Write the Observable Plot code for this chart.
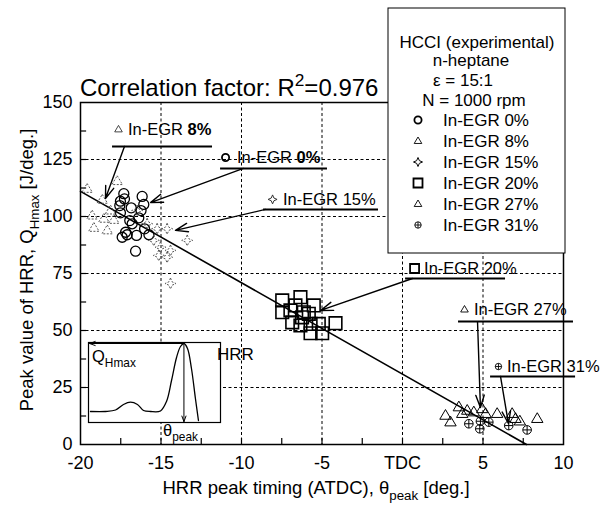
<!DOCTYPE html>
<html>
<head>
<meta charset="utf-8">
<script src="https://cdn.jsdelivr.net/npm/d3@7"></script>
<script src="https://cdn.jsdelivr.net/npm/@observablehq/plot@0.6"></script>
<style>
  body { margin: 0; background: #fff; }
  #chart { width: 600px; height: 507px; }
</style>
</head>
<body>
<div id="chart"></div>
<script>
// ---- measured HRR peaks, one pair of arrays per In-EGR rate ----
const seriesNames = ["In-EGR 0%", "In-EGR 8%", "In-EGR 15%", "In-EGR 20%", "In-EGR 27%", "In-EGR 31%"];

const egr0X  = [-17.31, -17.27, -17.52, -17.56, -16.85, -17.52, -16.17, -16.07, -16.24, -16.38, -16.94, -17.20, -17.41, -17.10, -16.52, -16.02, -15.75, -16.58, -16.79];
const egr0Y  = [110.0, 107.7, 106.7, 104.8, 103.8, 101.6, 108.8, 105.3, 102.6, 99.4, 98.2, 93.1, 90.9, 92.0, 91.7, 94.6, 92.0, 84.8, 96.8];

const egr8X  = [-19.59, -17.72, -18.65, -19.28, -18.55, -19.17, -18.34, -17.93, -18.14];
const egr8Y  = [112.1, 115.5, 107.3, 100.4, 99.0, 95.0, 93.9, 98.5, 102.6];

const egr15X = [-15.86, -15.24, -14.62, -15.45, -15.03, -14.41, -13.37, -15.14, -14.62, -14.41, -16.48];
const egr15Y = [96.8, 94.6, 94.6, 89.5, 86.5, 85.1, 89.5, 82.9, 82.1, 70.6, 102.6];

const egr20X = [-7.47, -6.34, -6.65, -6.96, -7.47, -5.51, -6.13, -5.82, -6.85, -6.34, -5.71, -5.20, -4.16, -5.71, -4.99, -6.24];
const egr20Y = [63.2, 64.6, 61.0, 58.8, 58.0, 61.0, 58.0, 57.3, 53.6, 52.2, 52.9, 52.9, 53.2, 48.8, 48.8, 55.8];

const egr27X = [2.67, 2.98, 3.50, 3.71, 4.02, 4.43, 4.95, 5.16, 5.88, 6.81, 7.02, 7.29, 8.37];
const egr27Y = [12.7, 9.8, 16.4, 13.5, 14.9, 14.2, 15.6, 13.5, 13.5, 13.5, 11.3, 10.2, 11.3];

const egr31X = [4.12, 4.84, 4.80, 5.36, 6.60, 7.74];
const egr31Y = [9.1, 10.2, 6.9, 9.8, 8.3, 6.4];

// linear fit through all points (R^2 = 0.976)
const fitX = [-20, 7.7];
const fitY = [111, 0];

// axis ticks
const xTicks = [-20, -15, -10, -5, 0, 5, 10];
const yTicks = [0, 25, 50, 75, 100, 125, 150];
const xGrid = [-15, -10, -5, 0, 5];
const yGrid = [25, 50, 75, 100, 125];
const xMinor = [-17.5, -15, -12.5, -10, -7.5, -5, -2.5, 0, 2.5, 5, 7.5];
const yMinor = [12.5, 25, 37.5, 50, 62.5, 75, 87.5, 100, 112.5, 125, 137.5];

// schematic HRR trace for the inset (crank angle %, HRR %)
const insetU = [1.5, 12.9, 20.5, 26.5, 31.8, 37.1, 41.7, 47, 54.5, 59.1, 62.9, 66.7, 69.7, 72.3, 75, 78, 81, 83.3];
const insetV = [13.75, 13.75, 15.6, 22.5, 25.4, 22.5, 15, 13.75, 14.4, 26.3, 52.5, 81.3, 95, 98.75, 92.5, 67.5, 30, 2.5];

const FONT = '"Liberation Sans", Arial, Helvetica, sans-serif';

// ---- marker shapes ----
const rOf = s => Math.sqrt(s / Math.PI);
const shapes = {
  circle: { draw(c, s) { const r = rOf(s); c.moveTo(r, 0); c.arc(0, 0, r, 0, 2 * Math.PI); } },
  triangle: { draw(c, s) { const r = rOf(s); c.moveTo(0, -r); c.lineTo(r * 0.95, r * 0.62); c.lineTo(-r * 0.95, r * 0.62); c.closePath(); } },
  star4: { draw(c, s) { const r = rOf(s), k = r * 0.3;
    c.moveTo(0, -r); c.lineTo(k, -k); c.lineTo(r, 0); c.lineTo(k, k);
    c.lineTo(0, r); c.lineTo(-k, k); c.lineTo(-r, 0); c.lineTo(-k, -k); c.closePath(); } },
  square: { draw(c, s) { const r = rOf(s); c.rect(-r, -r, 2 * r, 2 * r); } },
  oplus: { draw(c, s) { const r = rOf(s); c.moveTo(r, 0); c.arc(0, 0, r, 0, 2 * Math.PI);
    c.moveTo(-r, 0); c.lineTo(r, 0); c.moveTo(0, -r); c.lineTo(0, r); } }
};

const series = [
  { name: seriesNames[0], xs: egr0X,  ys: egr0Y,  shape: shapes.circle,   r: 5,   stroke: "#000", width: 1.3, dash: null,  lr: 3.6, lw: 1.8 },
  { name: seriesNames[1], xs: egr8X,  ys: egr8Y,  shape: shapes.triangle, r: 5.5, stroke: "#555", width: 1,   dash: "2,1.5", lr: 4, lw: 0.9 },
  { name: seriesNames[2], xs: egr15X, ys: egr15Y, shape: shapes.star4,    r: 5.5, stroke: "#555", width: 1,   dash: "2,1.5", lr: 4.5, lw: 1 },
  { name: seriesNames[3], xs: egr20X, ys: egr20Y, shape: shapes.square,   r: 6.3, stroke: "#000", width: 1.6, dash: null,  lr: 4.5, lw: 1.8 },
  { name: seriesNames[4], xs: egr27X, ys: egr27Y, shape: shapes.triangle, r: 6,   stroke: "#000", width: 1,   dash: null,  lr: 4, lw: 0.9 },
  { name: seriesNames[5], xs: egr31X, ys: egr31Y, shape: shapes.oplus,    r: 4.3, stroke: "#000", width: 1,   dash: null,  lr: 3.2, lw: 0.9 }
];

// callouts: marker + label, underline, arrow pointing into each group
const notes = [
  { s: 1, pre: "In-EGR ", em: "8%", bold: true,  sx: -17.64, sy: 138.2, tx: -17.02, u1: -18.01, u2: -11.80, uy: 130.7, ax1: -17.27, ay1: 130.7, ax2: -18.45, ay2: 107.9 },
  { s: 0, pre: "In-EGR ", em: "0%", bold: true,  sx: -10.99, sy: 125.9, tx: -10.25, u1: -11.30, u2: -4.66,  uy: 121.1, ax1: -9.88,  ay1: 121.1, ax2: -15.65, ay2: 106.1 },
  { s: 2, pre: "In-EGR ", em: "15%", bold: false, sx: -8.07,  sy: 107.5, tx: -7.39,  u1: -8.63,  u2: -1.49,  uy: 103.1, ax1: -8.51,  ay1: 103.1, ax2: -14.10, ay2: 93.9 },
  { s: 3, pre: "In-EGR ", em: "20%", bold: false, sx: 0.75,   sy: 77.2,  tx: 1.37,   u1: 0.19,   u2: 6.40,   uy: 72.8,  ax1: 0.62,   ay1: 72.8,  ax2: -5.09,  ay2: 58.8 },
  { s: 4, pre: "In-EGR ", em: "27%", bold: false, sx: 3.85,   sy: 59.2,  tx: 4.47,   u1: 3.48,   u2: 10.62,  uy: 53.9,  ax1: 4.66,   ay1: 53.9,  ax2: 4.84,   ay2: 16.2 },
  { s: 5, pre: "In-EGR ", em: "31%", bold: false, sx: 5.96,   sy: 34.2,  tx: 6.52,   u1: 5.47,   u2: 10.75,  uy: 29.8,  ax1: 6.09,   ay1: 29.8,  ax2: 6.58,   ay2: 9.2 }
];

const fit = fitX.map((x, i) => ({ x, y: fitY[i] }));

const dotMarks = series.map(s =>
  Plot.dot(s.xs.map((x, i) => ({ x, y: s.ys[i] })), {
    x: "x", y: "y", symbol: s.shape, r: s.r, fill: "none",
    stroke: s.stroke, strokeWidth: s.width, strokeDasharray: s.dash
  })
);

const calloutMarks = notes.map(n => {
  const s = series[n.s];
  return Plot.dot([n], { x: "sx", y: "sy", symbol: s.shape, r: s.lr, fill: "none", stroke: s.stroke === "#555" ? "#333" : "#000", strokeWidth: s.lw });
});

const chart = Plot.plot({
  width: 600,
  height: 507,
  marginLeft: 80,
  marginRight: 37,
  marginTop: 102,
  marginBottom: 63,
  style: { fontFamily: FONT, fontSize: "18px", background: "white", color: "#000", overflow: "visible" },
  x: { domain: [-20, 10], ticks: xTicks, tickFormat: d => d === 0 ? "TDC" : String(d), tickSize: 0, tickPadding: 12, label: null },
  y: { domain: [0, 150], ticks: yTicks, tickFormat: d => String(d), tickSize: 0, tickPadding: 8, label: null },
  marks: [
    Plot.ruleX(xGrid, { stroke: "#000", strokeWidth: 1, strokeDasharray: "3,2.5" }),
    Plot.ruleY(yGrid, { stroke: "#000", strokeWidth: 1, strokeDasharray: "3,2.5" }),
    Plot.ruleX(xMinor, { y1: 0, y2: 2.6, stroke: "#000", strokeWidth: 1.2 }),
    Plot.ruleY(yMinor, { x1: -20, x2: -19.62, stroke: "#000", strokeWidth: 1.2 }),
    Plot.frame({ stroke: "#000", strokeWidth: 1.5 }),
    Plot.line(fit, { x: "x", y: "y", stroke: "#000", strokeWidth: 1.6 }),
    ...dotMarks,
    Plot.ruleY(notes, { y: "uy", x1: "u1", x2: "u2", stroke: "#000", strokeWidth: 2 }),
    Plot.arrow(notes, { x1: "ax1", y1: "ay1", x2: "ax2", y2: "ay2", stroke: "#000", strokeWidth: 1.4, headLength: 14, headAngle: 38 }),
    ...calloutMarks
  ]
});

document.getElementById("chart").appendChild(chart);
const svg = d3.select(chart);
const sx = chart.scale("x"), sy = chart.scale("y");

// text with optional sub/superscript runs
function rich(g, x, y, parts, { size = 16, anchor = "start", rotate = 0 } = {}) {
  const t = g.append("text")
    .attr("x", x).attr("y", y)
    .attr("font-family", FONT).attr("font-size", size)
    .attr("text-anchor", anchor).attr("fill", "#000");
  if (rotate) t.attr("transform", `rotate(${rotate},${x},${y})`);
  let shift = 0;
  for (const p of parts) {
    const target = p.sub ? size * 0.32 : p.sup ? -size * 0.42 : 0;
    const span = t.append("tspan").text(p.t).attr("dy", target - shift);
    if (p.sub || p.sup) span.attr("font-size", size * 0.72);
    if (p.bold) span.attr("font-weight", "bold");
    shift = target;
  }
  return t;
}

// ---- inset: definition of Q_Hmax and theta_peak on an HRR trace ----
const insetBox = { left: 88, top: 342 };
const inset = Plot.plot({
  width: 132,
  height: 80,
  margin: 0,
  style: { background: "none" },
  x: { domain: [0, 100], axis: null },
  y: { domain: [0, 100], axis: null },
  marks: [
    Plot.frame({ fill: "white", stroke: "#000", strokeWidth: 1.2 }),
    Plot.line(insetU.map((u, i) => ({ u, v: insetV[i] })), { x: "u", y: "v", curve: "catmull-rom", stroke: "#000", strokeWidth: 1.3 }),
    Plot.arrow([{ x1: 72.3, y1: 98.75, x2: 0.8, y2: 98.75 }], { x1: "x1", y1: "y1", x2: "x2", y2: "y2", stroke: "#000", strokeWidth: 1, headLength: 9, headAngle: 40 }),
    Plot.arrow([{ x1: 72.3, y1: 98.75, x2: 72.3, y2: 1 }], { x1: "x1", y1: "y1", x2: "x2", y2: "y2", stroke: "#000", strokeWidth: 1, headLength: 9, headAngle: 40 })
  ]
});
// move the inset's drawing into a group placed inside the main frame
const insetG = svg.append("g")
  .attr("class", inset.getAttribute("class"))
  .attr("transform", `translate(${insetBox.left},${insetBox.top})`);
while (inset.firstChild) insetG.node().appendChild(inset.firstChild);

const textLayer = svg.append("g");
rich(textLayer, 92, 362, [{ t: "Q" }, { t: "Hmax", sub: true }], { size: 16.5 });
rich(textLayer, 217, 360, [{ t: "HRR" }], { size: 17 });
rich(textLayer, 163, 436, [{ t: "θ" }, { t: "peak", sub: true }], { size: 16.5 });

// ---- callout labels ----
for (const n of notes) {
  const cy = sy.apply(n.sy) + 6;
  const t = textLayer.append("text")
    .attr("x", sx.apply(n.tx)).attr("y", cy)
    .attr("text-anchor", "start")
    .attr("font-family", FONT).attr("font-size", 16.5).attr("fill", "#000");
  t.append("tspan").text(n.pre);
  t.append("tspan").text(n.em).attr("font-weight", n.bold ? "bold" : null);
}

// ---- legend box ----
const lg = svg.append("g");
lg.append("rect").attr("x", 388).attr("y", 8).attr("width", 177).attr("height", 245)
  .attr("fill", "white").attr("stroke", "#000").attr("stroke-width", 1);
const headLines = [
  { parts: [{ t: "HCCI (experimental)" }], x: 477, y: 48 },
  { parts: [{ t: "n-heptane" }], x: 471, y: 66 },
  { parts: [{ t: "ε = 15:1" }], x: 463, y: 86 },
  { parts: [{ t: "N = 1000 rpm" }], x: 474, y: 106 }
];
for (const h of headLines) rich(lg, h.x, h.y, h.parts, { size: 17, anchor: "middle" });
series.forEach((s, i) => {
  const y = 126 + i * 21;
  lg.append("path")
    .attr("transform", `translate(418,${y - 6})`)
    .attr("d", d3.symbol(s.shape, Math.PI * s.lr * s.lr)())
    .attr("fill", "none").attr("stroke", "#000").attr("stroke-width", s.lw);
  rich(lg, 443, y, [{ t: s.name }], { size: 17 });
});

// ---- title and axis titles ----
rich(svg, 80, 96, [{ t: "Correlation factor: R" }, { t: "2", sup: true }, { t: "=0.976" }], { size: 24 });
rich(svg, 316, 494, [{ t: "HRR peak timing (ATDC), θ" }, { t: "peak", sub: true }, { t: " [deg.]" }], { size: 18.5, anchor: "middle" });
rich(svg, 33, 270, [{ t: "Peak value of HRR, Q" }, { t: "Hmax", sub: true }, { t: " [J/deg.]" }], { size: 18.5, anchor: "middle", rotate: -90 });
</script>
</body>
</html>
